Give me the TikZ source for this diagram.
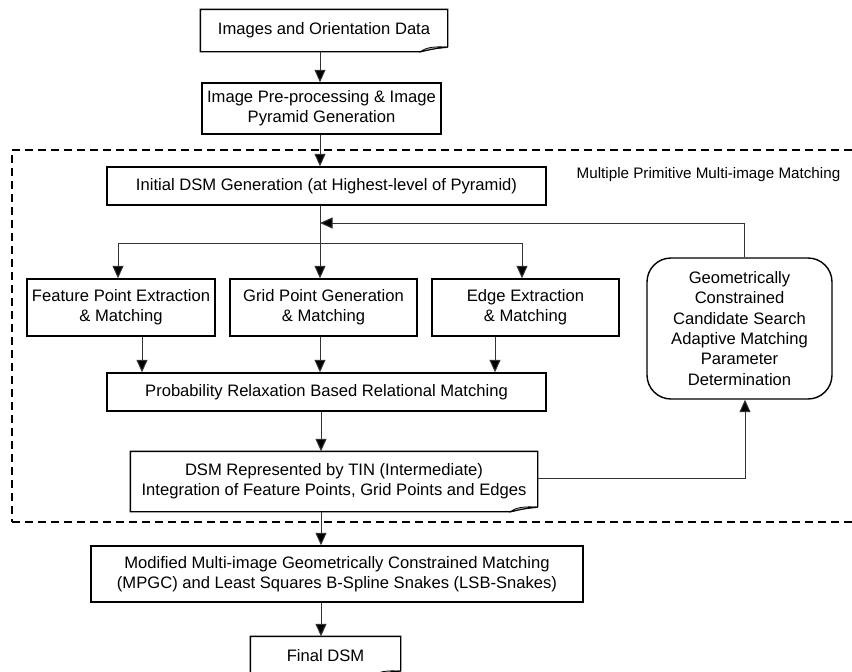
\documentclass[tikz,border=0pt]{standalone}
\usepackage{fontspec}
\setmainfont{Liberation Sans}
\usetikzlibrary{arrows.meta,calc}
\tikzset{
  boxline/.style={line width=1.4pt, draw=black},
  box/.style={boxline, rectangle, inner sep=0pt, align=center,
    font=\fontsize{16.6pt}{20.3pt}\selectfont},
  docbox/.style={box, draw=none},
  roundbox/.style={box, rounded corners=24pt},
  grouprect/.style={draw=black, line width=1.2pt, dash pattern=on 8pt off 5pt, inner sep=0pt},
  conn/.style={line width=1pt, draw=black!80},
  arr/.style={conn, -{Triangle[width=11pt,length=12.5pt,fill=black]}},
  grouplabel/.style={inner sep=0pt, font=\fontsize{15.2pt}{18pt}\selectfont},
}
\newcommand\docfold[1]{%
  \draw[boxline, line join=miter] ([yshift=4.5pt]#1.south east) -- (#1.north east) -- (#1.north west) -- (#1.south west) -- ([xshift=-27pt]#1.south east)
    .. controls ([xshift=-19pt,yshift=2pt]#1.south east) and ([xshift=-10pt,yshift=4pt]#1.south east) .. ([yshift=4.5pt]#1.south east);
  \filldraw[line width=0.8pt, draw=black, fill=gray!55] ([xshift=-27pt]#1.south east)
    .. controls ([xshift=-22pt,yshift=4.5pt]#1.south east) and ([xshift=-12pt,yshift=5.5pt]#1.south east) .. ([yshift=4.5pt]#1.south east)
    .. controls ([xshift=-10pt,yshift=4pt]#1.south east) and ([xshift=-19pt,yshift=2pt]#1.south east) .. cycle;
}
\begin{document}
\begin{tikzpicture}[x=1pt, y=-1pt]
\useasboundingbox (0,0) rectangle (852,672);
\clip (0,0) rectangle (852,672);
\fill[white] (0,0) rectangle (852,672);

% group frame
\node[grouprect, minimum width=858pt, minimum height=372pt] (grp) at (441,336) {};
\node[grouplabel] (glabel) at (708.5,175) {Multiple Primitive Multi-image Matching};

% boxes
\node[docbox, minimum width=246pt, minimum height=41pt] (b1) at (324,30.5) {Images and Orientation Data};
\docfold{b1}
\node[box, minimum width=239pt, minimum height=51pt] (b2) at (321.5,108.5) {Image Pre-processing \& Image\\Pyramid Generation};
\node[box, minimum width=439pt, minimum height=38pt] (init) at (326.5,186) {Initial DSM Generation (at Highest-level of Pyramid)};
\node[box, minimum width=188pt, minimum height=57pt] (feat) at (121,307.5) {Feature Point Extraction\\\& Matching};
\node[box, minimum width=187pt, minimum height=57pt] (grid) at (323.5,307.5) {Grid Point Generation\\\& Matching};
\node[box, minimum width=187pt, minimum height=57pt] (edge) at (525.5,307.5) {Edge Extraction\\\& Matching};
\node[roundbox, minimum width=185pt, minimum height=141pt] (geo) at (739.5,328.5) {Geometrically\\Constrained\\Candidate Search\\Adaptive Matching\\Parameter\\Determination};
\node[box, minimum width=439pt, minimum height=38pt] (prob) at (326.5,392) {Probability Relaxation Based Relational Matching};
\node[docbox, minimum width=406pt, minimum height=59pt] (tin) at (334,481.5) {DSM Represented by TIN (Intermediate)\\Integration of Feature Points, Grid Points and Edges};
\docfold{tin}
\node[box, minimum width=492pt, minimum height=56pt] (mpgc) at (337,574) {Modified Multi-image Geometrically Constrained Matching\\(MPGC) and Least Squares B-Spline Snakes (LSB-Snakes)};
\node[docbox, minimum width=149pt, minimum height=38pt] (final) at (325.5,656) {Final DSM};
\docfold{final}

% helper coordinates
\coordinate (spine) at (320,0);
\coordinate (fb) at (320,223);
\coordinate (fx) at (118,243);
\coordinate (gx) at (320,243);
\coordinate (ex) at (522,243);
\coordinate (p1) at (142,0);
\coordinate (p3) at (495,0);
\coordinate (tl) at (0,478);

% connectors
\draw[arr] (b1.south -| spine) -- (b2.north -| spine);
\draw[arr] (b2.south -| spine) -- (init.north -| spine);
\draw[arr] (init.south -| spine) -- (grid.north -| spine);
\draw[conn] (fx) -- (ex);
\draw[arr] (fx) -- (fx |- feat.north);
\draw[arr] (ex) -- (ex |- edge.north);
\draw[arr] ([xshift=4.5pt]geo.north) |- (fb);
\draw[arr] (feat.south -| p1) -- (prob.north -| p1);
\draw[arr] (grid.south -| spine) -- (prob.north -| spine);
\draw[arr] (edge.south -| p3) -- (prob.north -| p3);
\draw[arr] ([xshift=1pt]prob.south -| spine) -- ([xshift=1pt]tin.north -| spine);
\draw[arr] (tin.east |- tl) -| ([xshift=5.5pt]geo.south);
\draw[arr] ([xshift=1pt]tin.south -| spine) -- ([xshift=1pt]mpgc.north -| spine);
\draw[arr] ([xshift=1pt]mpgc.south -| spine) -- ([xshift=1pt]final.north -| spine);
\end{tikzpicture}
\end{document}
